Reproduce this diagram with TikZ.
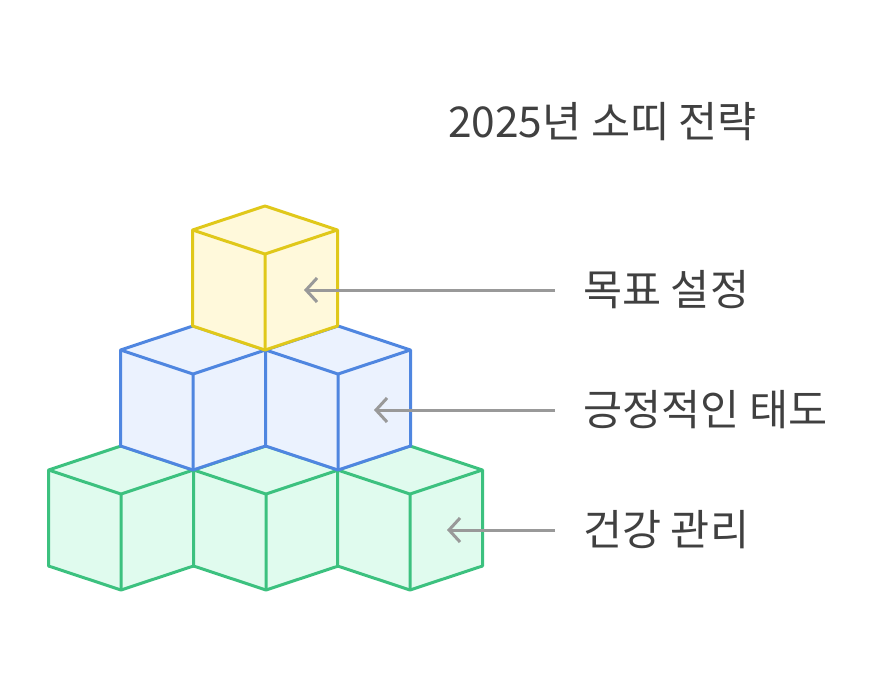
\documentclass[tikz,border=0pt]{standalone}
\usepackage{fontspec}
\setmainfont{Noto Sans CJK KR}
\usetikzlibrary{arrows.meta}
\definecolor{ys}{HTML}{E0C81A}\definecolor{yf}{HTML}{FFF9DB}
\definecolor{bs}{HTML}{4F86E0}\definecolor{bf}{HTML}{EBF2FE}
\definecolor{gs}{HTML}{3CC17F}\definecolor{gf}{HTML}{E0FBEE}
\definecolor{ar}{HTML}{999999}\definecolor{tx}{HTML}{404040}
\newcommand{\mycube}[4]{%
 \filldraw[line width=3pt,line join=round,draw=#3,fill=#4] (#1-72.5,#2)--(#1,#2-24)--(#1+72.5,#2)--(#1+72.5,#2+96)--(#1,#2+120)--(#1-72.5,#2+96)--cycle;
 \draw[line width=3pt,line join=round,draw=#3] (#1-72.5,#2)--(#1,#2+24)--(#1+72.5,#2) (#1,#2+24)--(#1,#2+120);}
\tikzset{lab/.style={anchor=west,text=tx,font=\fontsize{42.5}{50}\selectfont,inner sep=0},
 arr/.style={draw=ar,line width=3pt,-{Straight Barb[length=11pt,width=24pt]}}}
\begin{document}
\begin{tikzpicture}[x=1pt,y=-1pt]
\useasboundingbox (0,0) rectangle (892,688);
\mycube{121}{470}{gs}{gf}\mycube{266}{470}{gs}{gf}\mycube{410}{470}{gs}{gf}
\mycube{193}{350}{bs}{bf}\mycube{338}{350}{bs}{bf}
\mycube{265}{230}{ys}{yf}
\node[lab] (t) at (448,122) {2025년 소띠 전략};
\node[lab] (l1) at (583,290) {목표 설정};
\node[lab] (l2) at (583,410) {긍정적인 태도};
\node[lab] (l3) at (583,530) {건강 관리};
\coordinate (a1) at (304,290);\coordinate (a2) at (374,410);\coordinate (a3) at (447,530);
\draw[arr] (l1.west)+(-28,0) -- (a1);
\draw[arr] (l2.west)+(-28,0) -- (a2);
\draw[arr] (l3.west)+(-28,0) -- (a3);
\end{tikzpicture}
\end{document}
